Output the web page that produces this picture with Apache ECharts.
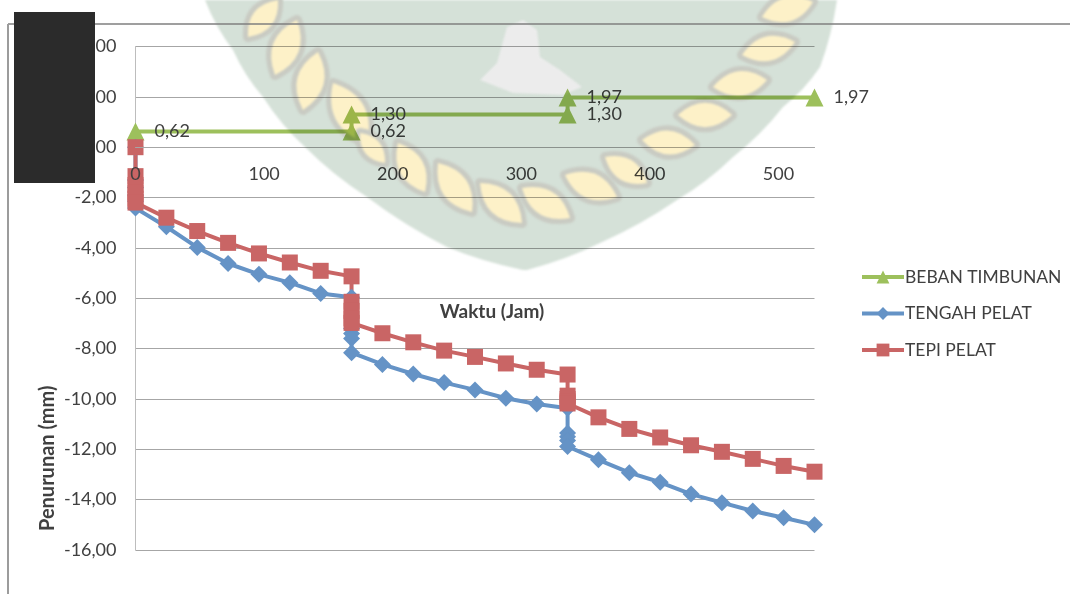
<!DOCTYPE html>
<html>
<head>
<meta charset="utf-8">
<style>html,body{margin:0;padding:0;background:#fff}#chart{width:1070px;height:594px}</style>
<script src="https://cdn.jsdelivr.net/npm/echarts@6/dist/echarts.min.js"></script>
</head>
<body>
<div id="chart"></div>
<script>
// Settlement of the slab under staged fill loading
const timeHours = [0,0,0,0,0,0,24,48,72,96,120,144,168,168,168,168,168,192,216,240,264,288,312,336,336,336,336,336,360,384,408,432,456,480,504,528];
const tengahPelat = [0,-1.3,-1.6,-1.9,-2.15,-2.42,-3.16,-3.98,-4.62,-5.05,-5.38,-5.81,-5.96,-7.2,-7.4,-7.6,-8.16,-8.63,-9.01,-9.35,-9.64,-9.97,-10.2,-10.37,-11.35,-11.5,-11.65,-11.89,-12.42,-12.93,-13.31,-13.78,-14.12,-14.45,-14.72,-15.0];
const tepiPelat = [0,-1.15,-1.5,-1.8,-2.05,-2.2,-2.8,-3.33,-3.8,-4.22,-4.58,-4.91,-5.13,-6.14,-6.5,-6.8,-6.98,-7.39,-7.75,-8.08,-8.33,-8.59,-8.84,-9.03,-9.87,-10.0,-10.1,-10.18,-10.73,-11.19,-11.53,-11.84,-12.1,-12.38,-12.66,-12.89];
const bebanTime = [0,168,168,336,336,528];
const bebanTimbunan = [0.62,0.62,1.30,1.30,1.97,1.97];

const pair = (xs, ys) => xs.map((x, i) => [x, ys[i]]);
const comma = v => v.toFixed(2).replace('.', ',');
const FONT = 'Lato';
const INK = '#404040';

// Institutional seal printed behind the plot
const sealOutline = [[205,0],[233,50],[263,97],[305,147],[367,197],[447,247],[523,270],[527,270],[600,243],[677,200],[733,157],[783,107],[820,67],[837,0]];
const sealLeaves = [[248,37,278,0],[275,75,297,20],[303,110,318,52],[333,83,367,143],[360,133,385,163],[398,143,425,192],[438,163,472,212],[480,183,522,223],[522,188,570,218],[565,175,617,197],[605,157,647,183],[642,140,695,145],[678,115,732,115],[713,87,767,80],[742,55,795,42],[762,17,813,2]];
const sealIsland = [[480,80],[497,63],[507,27],[523,20],[537,30],[540,57],[560,70],[582,87],[563,95],[513,93]];

function drawSeal() {
  const c = document.createElement('canvas');
  c.width = 1070; c.height = 594;
  const g = c.getContext('2d');
  g.filter = 'blur(0.8px)';
  g.fillStyle = '#d5e1d8';
  g.beginPath();
  sealOutline.forEach((p, i) => {
    if (i === 0) { g.moveTo(p[0], p[1]); return; }
    const q = sealOutline[i - 1];
    const bulge = (i === 7) ? 0 : 3;
    g.quadraticCurveTo((p[0] + q[0]) / 2 + (i < 7 ? -bulge : bulge), (p[1] + q[1]) / 2 + bulge, p[0], p[1]);
  });
  g.closePath();
  g.fill();
  sealLeaves.forEach(([x1, y1, x2, y2]) => {
    const mx = (x1 + x2) / 2, my = (y1 + y2) / 2;
    const nx = -(y2 - y1) * 0.45, ny = (x2 - x1) * 0.45;
    g.beginPath();
    g.moveTo(x1, y1);
    g.quadraticCurveTo(mx + nx, my + ny, x2, y2);
    g.quadraticCurveTo(mx - nx, my - ny, x1, y1);
    g.closePath();
    g.lineWidth = 10;
    g.strokeStyle = '#c9cbc3';
    g.lineJoin = 'round';
    g.stroke();
    g.fillStyle = '#fdf1c8';
    g.fill();
  });
  g.fillStyle = '#ececec';
  g.beginPath();
  sealIsland.forEach((p, i) => i ? g.lineTo(p[0], p[1]) : g.moveTo(p[0], p[1]));
  g.closePath();
  g.fill();
  return c;
}

const chart = echarts.init(document.getElementById('chart'), null, {renderer: 'canvas'});
chart.setOption({
  backgroundColor: '#ffffff',
  animation: false,
  grid: {left: 135.5, top: 46.5, width: 679, height: 503.5, containLabel: false, outerBoundsMode: 'none'},
  legend: {
    orient: 'vertical', left: 855, top: 263, itemWidth: 42, itemHeight: 16, itemGap: 18.5,
    lineStyle: {width: 4},
    textStyle: {fontFamily: FONT, fontSize: 17.5, color: INK, padding: [0, 0, 0, -4]},
    data: ['BEBAN TIMBUNAN', 'TENGAH PELAT', 'TEPI PELAT']
  },
  xAxis: {
    type: 'value', min: 0, max: 528, interval: 100, z: 10,
    // the axis runs along the zero settlement line, 16 units above the bottom of the plot
    position: 'bottom', offset: -403,
    name: 'Waktu (Jam)', nameLocation: 'middle', nameGap: 155,
    nameTextStyle: {fontFamily: FONT, fontSize: 19, fontWeight: 'bold', color: INK, padding: [0, 0, 0, 34]},
    axisLine: {show: true, onZero: false, lineStyle: {color: '#a6a6a6', width: 1}},
    axisTick: {show: false},
    splitLine: {show: false},
    axisLabel: {fontFamily: FONT, fontSize: 18, color: INK, margin: 18, showMinLabel: true, showMaxLabel: false, hideOverlap: false}
  },
  yAxis: {
    type: 'value', min: -16, max: 4, interval: 2,
    name: 'Penurunan (mm)', nameLocation: 'middle', nameGap: 78, nameMoveOverlap: false,
    nameTextStyle: {fontFamily: FONT, fontSize: 20, fontWeight: 'bold', color: INK, padding: [0, 320, 0, 0]},
    axisLine: {show: true, onZero: false, lineStyle: {color: '#bdbdbd', width: 1}},
    axisTick: {show: false},
    splitLine: {show: true, lineStyle: {color: '#a6a6a6', width: 1}},
    axisLabel: {fontFamily: FONT, fontSize: 18, color: INK, margin: 19, formatter: comma}
  },
  graphic: [
    {type: 'image', z: 50, silent: true, style: {image: drawSeal(), x: 0, y: 0, width: 1070, height: 594, blend: 'multiply'}},
    {type: 'line', z: 60, silent: true, shape: {x1: 8, y1: 24, x2: 1070, y2: 24}, style: {stroke: '#7f7f7f', lineWidth: 1.5}},
    {type: 'line', z: 60, silent: true, shape: {x1: 8, y1: 24, x2: 8, y2: 594}, style: {stroke: '#9c9c9c', lineWidth: 2}},
    {type: 'rect', z: 100, silent: true, shape: {x: 14, y: 12, width: 81, height: 171}, style: {fill: '#2b2b2b'}}
  ],
  series: [
    {
      name: 'BEBAN TIMBUNAN', type: 'line', data: pair(bebanTime, bebanTimbunan),
      symbol: 'triangle', symbolSize: 18, showAllSymbol: true,
      lineStyle: {color: '#9dc05c', width: 4}, itemStyle: {color: '#9dc05c'},
      label: {show: true, position: 'right', distance: 10, fontFamily: FONT, fontSize: 18, color: INK,
        formatter: p => comma(p.value[1])}
    },
    {
      name: 'TENGAH PELAT', type: 'line', data: pair(timeHours, tengahPelat),
      symbol: 'diamond', symbolSize: 17, showAllSymbol: true,
      lineStyle: {color: '#6593c6', width: 4}, itemStyle: {color: '#6593c6'}
    },
    {
      name: 'TEPI PELAT', type: 'line', data: pair(timeHours, tepiPelat),
      symbol: 'rect', symbolSize: 16, showAllSymbol: true,
      lineStyle: {color: '#c96565', width: 4}, itemStyle: {color: '#c96565'}
    }
  ]
});
</script>
</body>
</html>
